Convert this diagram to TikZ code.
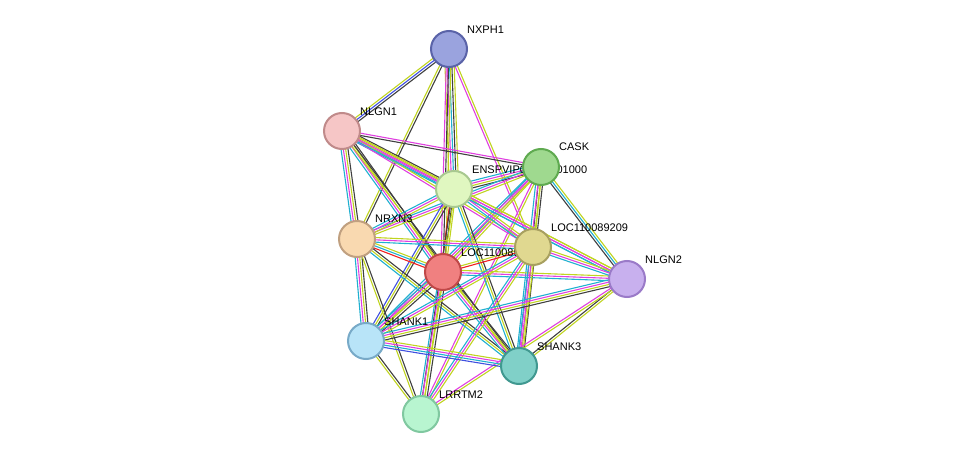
\documentclass[tikz,border=0pt]{standalone}
\usepackage{fontspec}
\setmainfont{Liberation Sans}
\usetikzlibrary{calc}
\definecolor{cy}{HTML}{20B0D0}\definecolor{mg}{HTML}{E040E0}\definecolor{yg}{HTML}{C0D420}
\definecolor{bk}{HTML}{404040}\definecolor{bl}{HTML}{4050E0}\definecolor{rd}{HTML}{F02020}
\newcommand\edg[3]{%
 \def\n{0}\foreach \c in {#3}{\pgfmathtruncatemacro\n{\n+1}\xdef\n{\n}}%
 \foreach \c [count=\i] in {#3}{%
  \pgfmathsetmacro\off{(\i-1-(\n-1)/2)*2.3}%
  \draw[\c,line width=1.1pt] ($(#1)!\off pt!90:(#2)$) -- ($(#2)!\off pt!-90:(#1)$);}}
\tikzset{prot/.style={circle,minimum size=36pt,line width=2pt,inner sep=0pt},
 lab/.style={anchor=south west,font=\fontsize{11}{13}\selectfont,inner sep=1pt}}
\begin{document}
\begin{tikzpicture}[x=1pt,y=-1pt]
\useasboundingbox (0,0) rectangle (975,460);
\coordinate (nx) at (449,49);\coordinate (n1) at (342,131);\coordinate (ca) at (541,167);
\coordinate (en) at (454,189);\coordinate (nr) at (357,239);\coordinate (l9) at (533,247);
\coordinate (lc) at (443,272);\coordinate (n2) at (627,279);\coordinate (s1) at (366,341);
\coordinate (s3) at (519,366);\coordinate (lr) at (421,414);
% edges
\edg{nx}{n1}{yg,bl,bk}
\edg{nx}{en}{yg,mg,cy,bk,yg}
\edg{nx}{nr}{yg,bk}
\edg{nx}{lc}{mg,bk,yg}
\edg{nx}{l9}{mg,yg}
\edg{n1}{ca}{bk,mg}
\edg{n1}{en}{cy,mg,yg,bk}
\edg{n1}{nr}{cy,mg,yg,bk}
\edg{n1}{lc}{cy,mg,yg,bk}
\edg{n1}{l9}{mg,yg}
\edg{n1}{n2}{cy,mg,yg}
\edg{n1}{s3}{yg,bk}
\edg{ca}{en}{cy,mg,yg,bk}
\edg{ca}{lc}{cy,mg,yg}
\edg{ca}{nr}{cy,mg,yg}
\edg{ca}{l9}{bk,yg}
\edg{ca}{n2}{bk,cy,yg}
\edg{ca}{s1}{cy,mg,yg}
\edg{ca}{s3}{cy,mg,yg,bk}
\edg{ca}{lr}{mg,yg}
\edg{en}{nr}{cy,mg,yg}
\edg{en}{lc}{rd,bk,yg}
\edg{en}{l9}{cy,mg,yg}
\edg{en}{n2}{cy,mg,yg}
\edg{en}{s1}{bl,yg,bk}
\edg{en}{s3}{cy,yg,bk}
\edg{en}{lr}{bk,yg}
\edg{nr}{lc}{rd,cy,yg}
\edg{nr}{l9}{cy,mg,yg}
\edg{nr}{s1}{cy,mg,yg,bk}
\edg{nr}{s3}{cy,yg,bk}
\edg{nr}{lr}{yg,bk}
\edg{lc}{l9}{rd,yg}
\edg{lc}{n2}{cy,mg,yg}
\edg{lc}{s1}{cy,mg,yg,bk}
\edg{lc}{s3}{cy,mg,yg,bk}
\edg{lc}{lr}{cy,mg,yg,bk}
\edg{l9}{n2}{cy,mg,yg}
\edg{l9}{s1}{cy,mg,yg}
\edg{l9}{s3}{cy,mg,yg}
\edg{l9}{lr}{cy,mg,yg}
\edg{n2}{s1}{cy,mg,yg,bk}
\edg{n2}{s3}{bk,yg}
\edg{n2}{lr}{mg,yg}
\edg{s1}{s3}{bl,cy,mg,yg}
\edg{s1}{lr}{yg,bk}
% labels
\node[lab] (tnx) at (466,35) {NXPH1};
\node[lab] (tn1) at (359,117) {NLGN1};
\node[lab] (tca) at (558,152) {CASK};
\node[lab] (ten) at (471,175) {ENSPVIP00000001000};
\node[lab] (tnr) at (374,224) {NRXN3};
\node[lab] (tl9) at (550,233) {LOC110089209};
\node[lab] (tlc) at (460,258) {LOC110089210};
\node[lab] (tn2) at (644,265) {NLGN2};
\node[lab] (ts1) at (383,327) {SHANK1};
\node[lab] (ts3) at (536,352) {SHANK3};
\node[lab] (tlr) at (438,400) {LRRTM2};
% nodes
\node[prot,fill={rgb,255:red,154;green,163;blue,222},draw={rgb,255:red,90;green,99;blue,168}] (Nx) at (nx) {};
\node[prot,fill={rgb,255:red,246;green,198;blue,198},draw={rgb,255:red,192;green,138;blue,138}] (N1) at (n1) {};
\node[prot,fill={rgb,255:red,224;green,247;blue,192},draw={rgb,255:red,168;green,200;blue,144}] (En) at (en) {};
\node[prot,fill={rgb,255:red,159;green,217;blue,143},draw={rgb,255:red,95;green,170;blue,80}] (Ca) at (ca) {};
\node[prot,fill={rgb,255:red,249;green,217;blue,176},draw={rgb,255:red,192;green,160;blue,128}] (Nr) at (nr) {};
\node[prot,fill={rgb,255:red,224;green,216;blue,144},draw={rgb,255:red,168;green,160;blue,96}] (L9) at (l9) {};
\node[prot,fill={rgb,255:red,240;green,128;blue,128},draw={rgb,255:red,192;green,72;blue,72}] (Lc) at (lc) {};
\node[prot,fill={rgb,255:red,200;green,176;blue,238},draw={rgb,255:red,154;green,122;blue,200}] (N2) at (n2) {};
\node[prot,fill={rgb,255:red,184;green,228;blue,248},draw={rgb,255:red,120;green,170;blue,200}] (S1) at (s1) {};
\node[prot,fill={rgb,255:red,128;green,208;blue,200},draw={rgb,255:red,64;green,152;blue,144}] (S3) at (s3) {};
\node[prot,fill={rgb,255:red,184;green,245;blue,208},draw={rgb,255:red,128;green,200;blue,160}] (Lr) at (lr) {};
\end{tikzpicture}
\end{document}
